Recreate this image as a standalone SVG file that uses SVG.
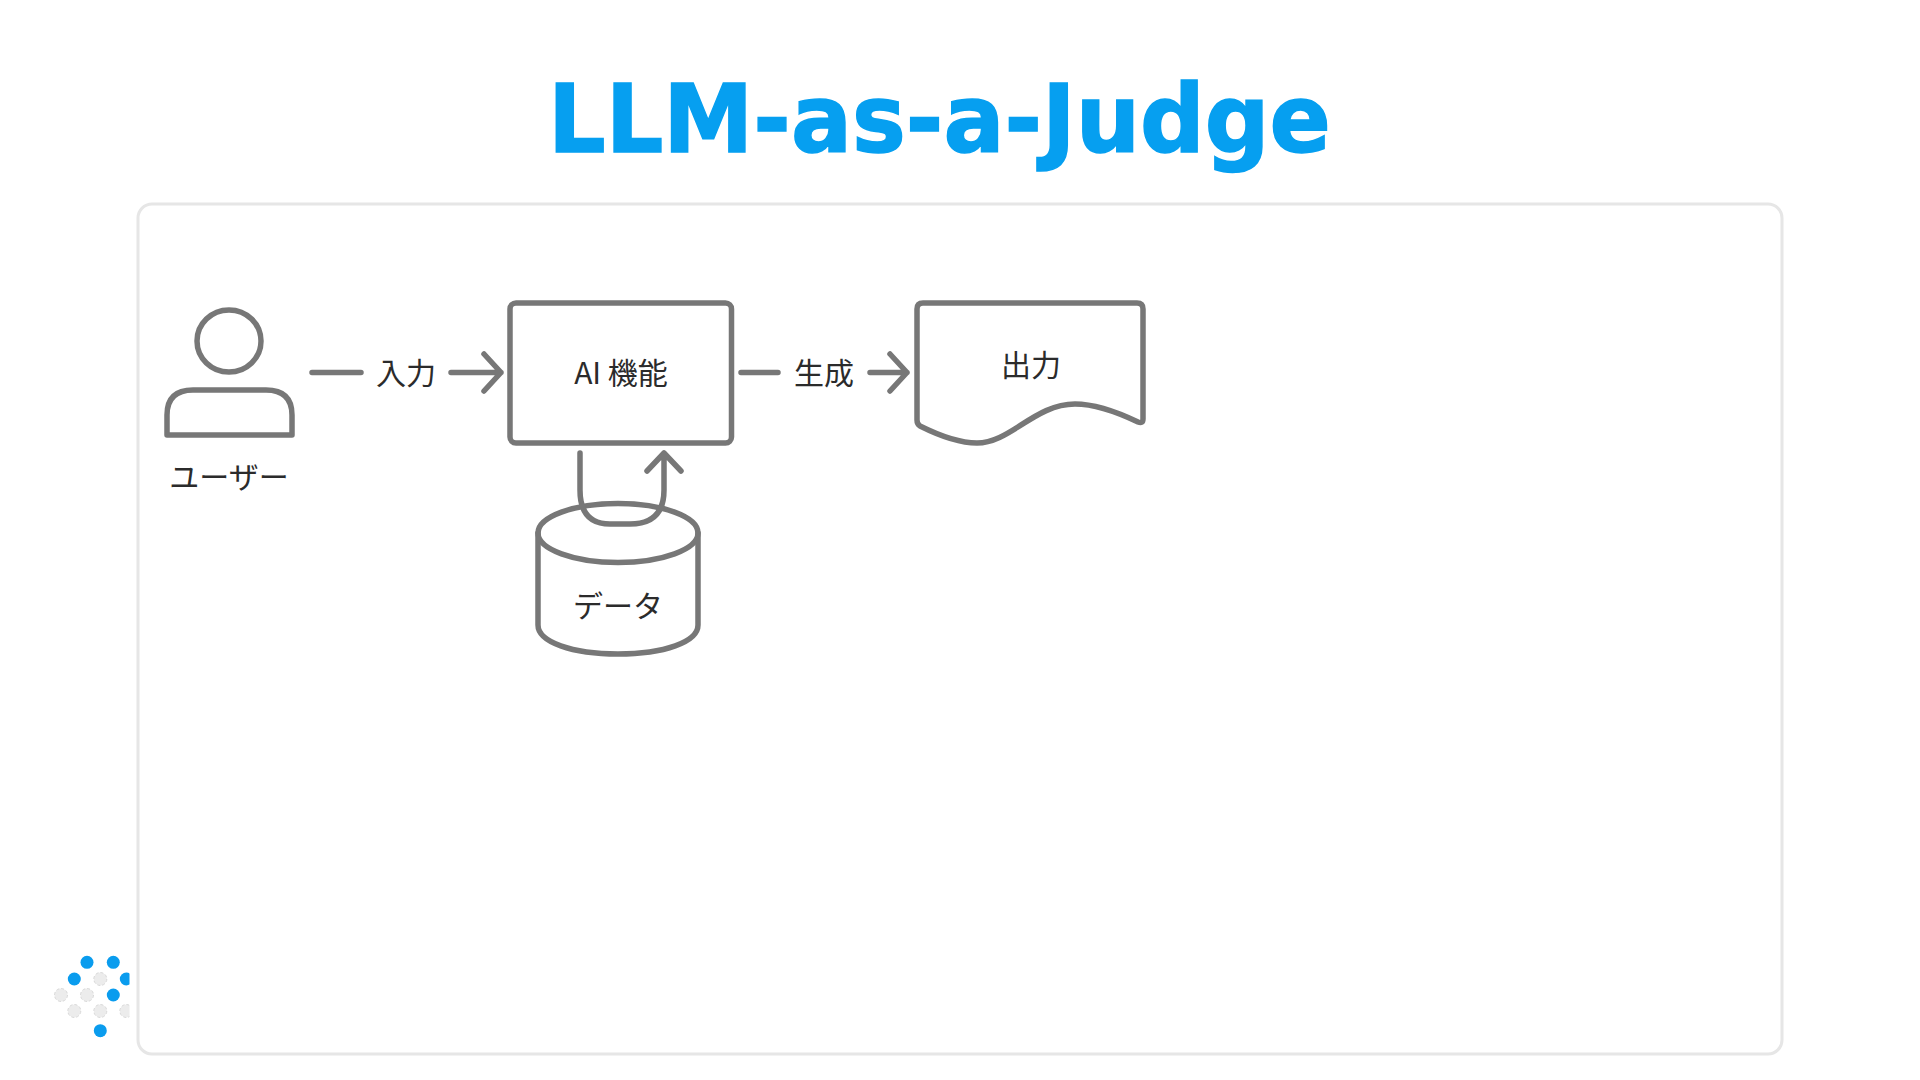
<svg xmlns="http://www.w3.org/2000/svg" width="1920" height="1080" viewBox="0 0 1920 1080">
<style>
.s{fill:none;stroke:#777;stroke-width:5.500;stroke-linecap:round;stroke-linejoin:round}
.t{font-family:"Noto Sans CJK JP","Noto Sans",sans-serif;font-size:30px;fill:#2b2b2b;text-anchor:middle}
.b{fill:#0a9cee}
.g{fill:#ececec;stroke:#d8d8d8;stroke-width:1;stroke-dasharray:3 2}
</style>
<defs><clipPath id="lc"><rect x="40" y="940" width="89.500" height="110"/></clipPath></defs>
<rect width="1920" height="1080" fill="#fff"/>
<text x="548" y="152" textLength="783" lengthAdjust="spacingAndGlyphs" style="font-family:'DejaVu Sans',sans-serif;font-weight:700;font-size:95px;fill:#069ff0;stroke:#069ff0;stroke-width:1.500">LLM-as-a-Judge</text>
<rect id="frame" x="138" y="204" width="1644" height="850" rx="14" fill="#fff" stroke="#e6e6e6" stroke-width="3"/>
<g id="logo" clip-path="url(#lc)">
<circle class="b" cx="87" cy="962.300" r="6.500"/><circle class="b" cx="113.300" cy="962.300" r="6.500"/>
<circle class="b" cx="74.300" cy="979" r="6.500"/><circle class="g" cx="100.300" cy="979" r="6.500"/><circle class="b" cx="126.300" cy="979" r="6.500"/>
<circle class="g" cx="61" cy="995" r="6.500"/><circle class="g" cx="87" cy="995" r="6.500"/><circle class="b" cx="113.300" cy="995" r="6.500"/>
<circle class="g" cx="74.300" cy="1011" r="6.500"/><circle class="g" cx="100.300" cy="1011" r="6.500"/><circle class="g" cx="126.300" cy="1011" r="6.500"/>
<circle class="b" cx="100.300" cy="1030.700" r="6.500"/>
</g>
<g id="user">
<ellipse class="s" cx="229" cy="341" rx="32" ry="31"/>
<path class="s" d="M167 435V415Q167 390 193 390H266Q292 390 292 415V435Z"/>
<text class="t" x="229" y="488">ユーザー</text>
</g>
<g id="ai">
<rect class="s" x="510" y="303" width="221.500" height="140" rx="6"/>
<text class="t" x="621" y="384">AI 機能</text>
</g>
<g id="data">
<path class="s" d="M538 533V625C538 642 572 654 618 654C664 654 698 642 698 625V533"/>
<ellipse class="s" cx="618" cy="533" rx="80" ry="29.500"/>
<text class="t" x="618" y="617">データ</text>
</g>
<g id="output">
<path class="s" d="M923 303H1137Q1143 303 1143 309V419Q1143 424 1138 422C1115 411 1095 404 1075 404C1035 404 1010 443 977 443C955 443 932 432 920 426Q917 424 917 420V309Q917 303 923 303Z"/>
<text class="t" x="1031" y="376">出力</text>
</g>
<g id="connectors">
<path class="s" d="M312 372.500H361M451 372.500H501M484 354L501 372.500L484 391"/>
<path class="s" d="M741 372.500H778M870 372.500H907M890 354L907 372.500L890 391"/>
<path class="s" d="M580 453V490Q580 524 610 524H630Q664 524 664 490V453M647 471L664 453L681 471"/>
</g>
<text class="t" x="406" y="384">入力</text>
<text class="t" x="824" y="384">生成</text>
</svg>
